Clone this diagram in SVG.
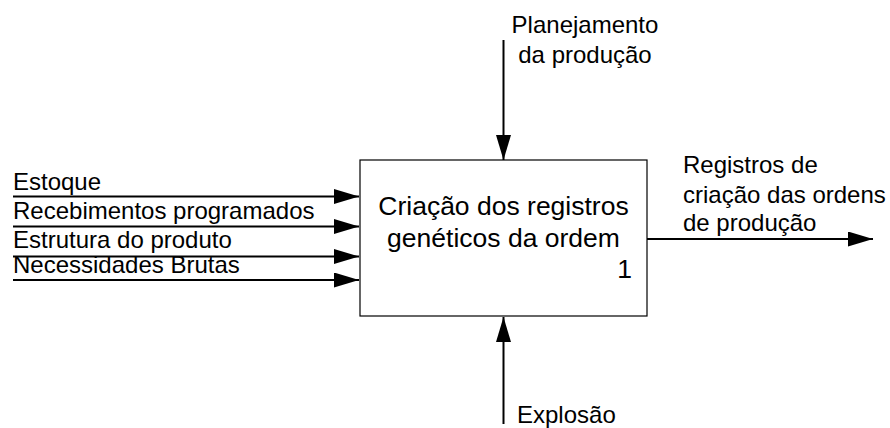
<svg xmlns="http://www.w3.org/2000/svg" width="890" height="428" viewBox="0 0 890 428">
  <style>
    text { font-family: "Liberation Sans", Arial, sans-serif; fill: #000; }
    .lbl { font-size: 24px; }
    .box { font-size: 26.5px; }
    .conn { stroke: #000; stroke-width: 2; fill: none; }
  </style>
  <defs>
    <marker id="arrow" markerUnits="userSpaceOnUse" markerWidth="26" markerHeight="16" refX="25" refY="7.5" orient="auto">
      <path d="M0,0 L25,7.5 L0,15 z" fill="#000"/>
    </marker>
  </defs>
  <rect width="890" height="428" fill="#fff"/>

  <g id="node-1">
    <rect x="360" y="160" width="287" height="156" fill="#fff" stroke="#000" stroke-width="1.2"/>
    <text class="box" x="503.5" y="215" text-anchor="middle">Criação dos registros</text>
    <text class="box" x="503.5" y="247" text-anchor="middle">genéticos da ordem</text>
    <text class="box" x="632" y="278" text-anchor="end">1</text>
  </g>

  <g id="connectors">
    <line class="conn" x1="13" y1="196.5" x2="359" y2="196.5" marker-end="url(#arrow)"/>
    <line class="conn" x1="13" y1="226.5" x2="359" y2="226.5" marker-end="url(#arrow)"/>
    <line class="conn" x1="13" y1="256.5" x2="359" y2="256.5" marker-end="url(#arrow)"/>
    <line class="conn" x1="13" y1="280" x2="359" y2="280" marker-end="url(#arrow)"/>
    <line class="conn" x1="503.5" y1="40" x2="503.5" y2="160" marker-end="url(#arrow)"/>
    <line class="conn" x1="503.5" y1="424" x2="503.5" y2="317" marker-end="url(#arrow)"/>
    <line class="conn" x1="647" y1="239" x2="873" y2="239" marker-end="url(#arrow)"/>
  </g>

  <g id="labels">
    <text class="lbl" x="13" y="190">Estoque</text>
    <text class="lbl" x="13" y="219">Recebimentos programados</text>
    <text class="lbl" x="13" y="248">Estrutura do produto</text>
    <text class="lbl" x="13" y="273">Necessidades Brutas</text>
    <text class="lbl" x="585" y="33" text-anchor="middle">Planejamento</text>
    <text class="lbl" x="585" y="63" text-anchor="middle">da produção</text>
    <text class="lbl" x="683" y="173">Registros de</text>
    <text class="lbl" x="683" y="203">criação das ordens</text>
    <text class="lbl" x="683" y="231">de produção</text>
    <text class="lbl" x="517" y="423">Explosão</text>
  </g>
</svg>
